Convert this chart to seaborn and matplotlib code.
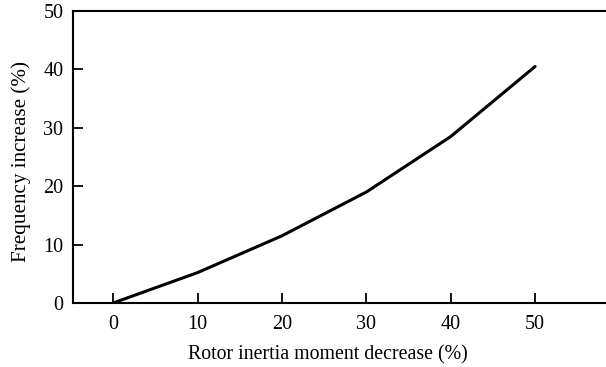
import matplotlib
matplotlib.use("Agg")
import matplotlib.pyplot as plt
import seaborn as sns
import pandas as pd

# Rotor inertia moment decrease vs. resulting frequency increase
inertia_decrease = [0, 10, 20, 30, 40, 50]
frequency_increase = [0.0, 5.2, 11.5, 19.0, 28.5, 40.5]
x_ticks = [0, 10, 20, 30, 40, 50]
y_ticks = [0, 10, 20, 30, 40, 50]

sns.set_theme(style="white")
plt.rcParams["font.family"] = ["Liberation Serif", "DejaVu Serif"]

df = pd.DataFrame({"x": inertia_decrease, "y": frequency_increase})

fig = plt.figure(figsize=(6.06, 3.67), dpi=100)
ax = fig.add_axes([0.1205, 0.1744, 0.8795, 0.7956])

sns.lineplot(data=df, x="x", y="y", ax=ax, color="black", linewidth=2.2)

ax.set_xlim(-4.75, 58.4)
ax.set_ylim(0, 50)
ax.set_xticks(x_ticks)
ax.set_yticks(y_ticks)
ax.tick_params(direction="in", length=7, width=1.3, colors="black",
               labelsize=14.5, bottom=True, left=True, top=False, right=False)
ax.tick_params(axis="y", pad=7)
ax.tick_params(axis="x", pad=9)
for side in ["left", "top", "bottom"]:
    ax.spines[side].set_color("black")
    ax.spines[side].set_linewidth(1.5)
ax.spines["right"].set_visible(False)

ax.set_xlabel("Rotor inertia moment decrease (%)", fontsize=14.3, color="black")
ax.set_ylabel("Frequency increase (%)", fontsize=15.2, color="black")
ax.xaxis.set_label_coords(0.478, -0.145)
ax.yaxis.set_label_coords(-0.078, 0.485)

fig.savefig("out.png", dpi=100)
